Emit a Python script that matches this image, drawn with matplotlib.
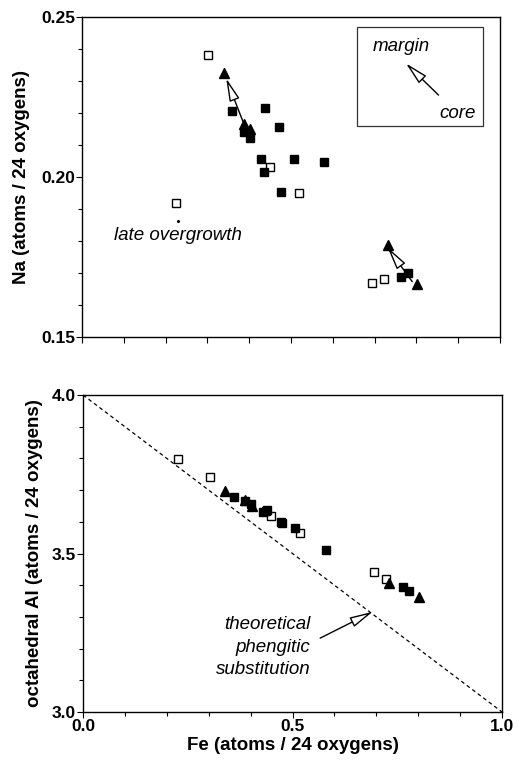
import matplotlib
matplotlib.use("Agg")
import matplotlib.pyplot as plt
from matplotlib.patches import Rectangle

plt.rcParams['font.family'] = ['Liberation Sans', 'DejaVu Sans']

# open squares
fe_open = [0.226, 0.302, 0.449, 0.519, 0.694, 0.722]
na_open = [0.192, 0.238, 0.203, 0.195, 0.167, 0.168]
al_open = [3.797, 3.740, 3.619, 3.564, 3.442, 3.420]

# filled squares
fe_fill = [0.360, 0.387, 0.402, 0.429, 0.436, 0.438, 0.472, 0.475, 0.507, 0.579, 0.763, 0.779]
na_fill = [0.2207, 0.2142, 0.2123, 0.2057, 0.2017, 0.2217, 0.2157, 0.1952, 0.2055, 0.2046, 0.1688, 0.1699]
al_fill = [3.679, 3.666, 3.655, 3.631, 3.633, 3.637, 3.598, 3.596, 3.580, 3.511, 3.394, 3.383]

# filled triangles
fe_tri = [0.339, 0.387, 0.403, 0.731, 0.801]
na_tri = [0.2326, 0.2166, 0.2149, 0.1788, 0.1665]
al_tri = [3.698, 3.668, 3.650, 3.408, 3.364]

# late overgrowth point
fe_late = [0.230]
na_late = [0.1862]

# theoretical phengitic substitution line
fe_line = [0.0, 1.0]
al_line = [4.0, 3.0]

W, H = 518, 763
fig = plt.figure(figsize=(W / 100, H / 100), dpi=100)

ax1 = fig.add_axes([82 / W, 1 - 337 / H, 418 / W, 320 / H])
ax2 = fig.add_axes([83 / W, 1 - 712 / H, 419 / W, 317 / H])

sq_ms = 5.5
tri_ms = 6.5
note_fs = 13.5
lab_fs = 13.5
tick_fs = 12.5

def draw_points(ax, yo, yf, yt):
    ax.plot(fe_open, yo, 's', ms=sq_ms, mfc='white', mec='black', mew=1.0, ls='none', zorder=3)
    ax.plot(fe_fill, yf, 's', ms=sq_ms, mfc='black', mec='black', ls='none', zorder=3)
    ax.plot(fe_tri, yt, '^', ms=tri_ms, mfc='black', mec='black', ls='none', zorder=3)

draw_points(ax1, na_open, na_fill, na_tri)
draw_points(ax2, al_open, al_fill, al_tri)

ax1.plot(fe_late, na_late, '.', ms=2.5, color='black')
ax1.text(0.230, 0.1816, 'late overgrowth', style='italic', fontsize=note_fs,
         ha='center', va='center')

arrow_kw = dict(arrowstyle='-|>,head_length=1.4,head_width=0.32', fc='white', ec='black',
                lw=1.0, shrinkA=0, shrinkB=0)
ax1.annotate('', xy=(0.345, 0.2308), xytext=(0.389, 0.2160), arrowprops=arrow_kw, zorder=4)
ax1.annotate('', xy=(0.731, 0.1780), xytext=(0.790, 0.1673), arrowprops=arrow_kw, zorder=4)

# legend box
ax1.add_patch(Rectangle((0.659, 0.2159), 0.960 - 0.659, 0.2468 - 0.2159,
                        fill=False, ec='#333333', lw=0.9))
ax1.annotate('', xy=(0.775, 0.2355), xytext=(0.853, 0.2256), arrowprops=arrow_kw)
ax1.text(0.763, 0.2409, 'margin', style='italic', fontsize=note_fs, ha='center', va='center')
ax1.text(0.898, 0.2199, 'core', style='italic', fontsize=note_fs, ha='center', va='center')

ax1.set_xlim(0, 1)
ax1.set_ylim(0.15, 0.25)
ax1.set_xticks([i / 10 for i in range(11)])
ax1.set_xticklabels([])
ax1.set_yticks([0.15, 0.20, 0.25])
ax1.set_yticklabels(['0.15', '0.20', '0.25'])
ax1.set_yticks([0.15 + i * 0.01 for i in range(11)], minor=True)
ax1.set_ylabel('Na (atoms / 24 oxygens)', fontsize=lab_fs, fontweight='bold', labelpad=8)

ax2.plot(fe_line, al_line, ls=(0, (3, 2.5)), color='black', lw=0.9, zorder=2)
ax2.annotate('', xy=(0.691, 3.316), xytext=(0.566, 3.233), arrowprops=arrow_kw)
ax2.text(0.542, 3.205, 'theoretical\nphengitic\nsubstitution', style='italic', fontsize=note_fs,
         ha='right', va='center', linespacing=1.45)

ax2.set_xlim(0, 1)
ax2.set_ylim(3.0, 4.0)
ax2.set_xticks([0.0, 0.5, 1.0])
ax2.set_xticklabels(['0.0', '0.5', '1.0'])
ax2.set_xticks([i / 10 for i in range(11)], minor=True)
ax2.set_yticks([3.0, 3.5, 4.0])
ax2.set_yticklabels(['3.0', '3.5', '4.0'])
ax2.set_yticks([3.0 + i * 0.1 for i in range(11)], minor=True)
ax2.set_ylabel('octahedral Al (atoms / 24 oxygens)', fontsize=lab_fs, fontweight='bold', labelpad=6)
ax2.set_xlabel('Fe (atoms / 24 oxygens)', fontsize=lab_fs, fontweight='bold', labelpad=2)

for ax in (ax1, ax2):
    for s in ax.spines.values():
        s.set_linewidth(1.0)
    ax.tick_params(which='both', direction='out', width=0.8)
    ax.tick_params(which='major', length=4, labelsize=tick_fs, pad=1)
    ax.tick_params(which='minor', length=3)
    for lab in ax.get_xticklabels() + ax.get_yticklabels():
        lab.set_fontweight('bold')

fig.savefig('out.png', dpi=100)
